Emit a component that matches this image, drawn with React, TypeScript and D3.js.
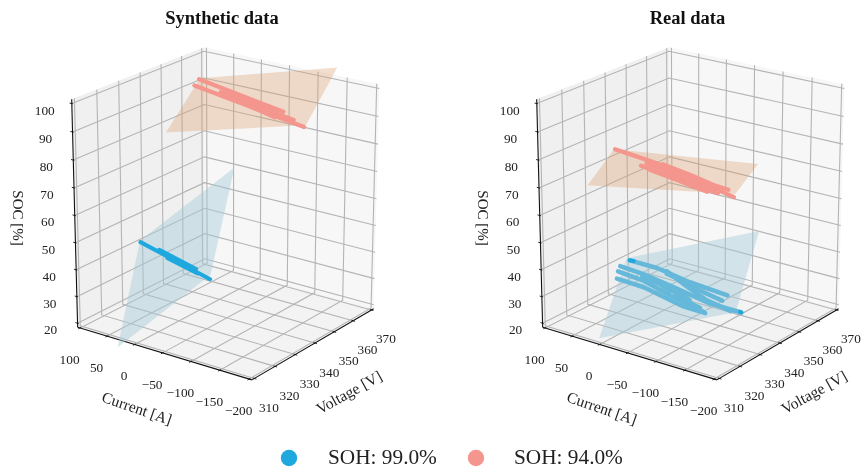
import { useEffect, useRef } from "react";
import * as d3 from "d3";

type P3 = [number, number, number]; // current, voltage, soc

const currentTicks = [100, 50, 0, -50, -100, -150, -200];
const voltageTicks = [310, 320, 330, 340, 350, 360, 370];
const socTicks = [20, 30, 40, 50, 60, 70, 80, 90, 100];
const currentLimits = [104.5, -204.5];
const voltageLimits = [308.8, 371.2];
const socLimits = [18.5, 101.5];

const synthRedPlane: P3[] = [[77, 361.7, 94], [-170, 359.7, 109.4], [-170, 344.3, 94], [77, 344.8, 79.3]];
const synthBluePlane: P3[] = [[60, 327.4, 46.3], [-108, 327.4, 81.7], [-108, 316, 47.5], [60, 316, 10.5]];
const realRedPlane: P3[] = [[78, 336.9, 75.7], [-174, 336.9, 83], [-177, 325, 76.7], [81, 325, 66.5]];
const realBluePlane: P3[] = [[78, 342.3, 32.9], [-159, 342.3, 56.3], [-159, 330.9, 31], [87.6, 330.9, 6]];

const synthRedTracks: P3[][] = [
  [[77.7, 361.4, 93.7], [-120.6, 347.5, 95.3]],
  [[79.2, 359.5, 91.9], [-174.5, 342, 94.3]],
  [[7.3, 355, 93], [-111.5, 346, 93.4]],
  [[-2.3, 355.5, 94], [-110, 348, 95.1]],
  [[-22.3, 353.2, 93.5], [-148.5, 344.5, 94.7]],
  [[19.4, 356.2, 93.2], [-71.7, 350.1, 94.2]],
];
const synthBlueTracks: P3[][] = [
  [[58.2, 327.1, 45.9], [-109.2, 315.5, 46.3]],
  [[12.8, 324.2, 46.7], [-75.4, 318.1, 47]],
  [[-8.2, 322.4, 45.5], [-79.3, 317.5, 45.9]],
];
const realRedTracks: P3[][] = [
  [[76.7, 337, 75.8], [44.9, 335.7, 76], [-11.3, 333.2, 76.4], [-70.4, 330, 76.3], [-137.2, 326.3, 76.2], [-178, 324.1, 76]],
  [[11.2, 332.1, 74.7], [-35.2, 329.9, 74.9], [-98.2, 327.2, 75.4], [-148.2, 324.9, 75.5]],
  [[-24.3, 332.9, 76.7], [-81.6, 330.2, 76.8], [-133.4, 327.3, 76.7], [-161.4, 326.2, 77]],
  [[-7.4, 331, 74.6], [-64.8, 328.3, 74.8], [-129.6, 325.1, 75]],
  [[5, 333, 75.6], [-50, 330.3, 75.8], [-105, 327.5, 75.9], [-150, 325.5, 76.2]],
];
const realBlueTracks: P3[][] = [
  [[71.1, 342, 32.6], [12.8, 339.9, 33.8], [-58, 336.7, 33.8], [-134.7, 333.7, 34.6]],
  [[86.8, 341.4, 29.7], [34.8, 339.4, 30.3], [-36.3, 336.2, 30.3], [-107.2, 333, 30.2], [-168.9, 330.8, 31.5]],
  [[88.3, 340.7, 27.9], [31.4, 338.4, 28.4], [-27.2, 335.4, 27.6], [-99, 332, 27.1]],
  [[86.3, 339.6, 25.6], [27.8, 337.4, 26.6], [-29.8, 334.7, 26.2], [-58.5, 333.3, 26.1], [-103.1, 331.7, 26.9]],
  [[-7.9, 339.1, 34.1], [-46.2, 336.7, 32.5], [-99.2, 333.6, 30.7], [-149.1, 331.3, 30.6]],
  [[-21.9, 336.9, 30.3], [-67.7, 334, 28.7]],
  [[-8, 339, 33.2], [-40, 337, 33.6], [-85, 334.5, 33], [-130, 332.6, 32.8]],
  [[-30, 336.6, 28.5], [-60, 334.6, 27.5], [-90, 332.8, 27.7]],
  [[40, 339.8, 29], [0, 337.8, 29.2], [-25, 336.3, 28.8]],
];
const realBlueDarkTracks: P3[][] = [
  [[71.1, 342, 32.6], [62, 341.6, 33]],
  [[-166, 331, 31.5], [-168.9, 330.8, 31.5]],
];

const panelTitles = ["Synthetic data", "Real data"];
const legendLabels = ["SOH: 99.0%", "SOH: 94.0%"];

const BLUE = "#1fa8de";
const RED = "#f4968e";
const FONT = "'Liberation Serif', 'Times New Roman', serif";

// camera, fitted by eye to the box corners
const azim = (36 * Math.PI) / 180;
const tiltDepth = 0.927;
const tiltHeight = 0.427;
const dist = 22;
const scaleH = 108;
const scaleZ = 113;
const scaleFloor = 38;

const aScale = d3.scaleLinear().domain(currentLimits).range([-1, 1]);
const bScale = d3.scaleLinear().domain(voltageLimits).range([-1, 1]);
const zScale = d3.scaleLinear().domain(socLimits).range([-1, 1]);

function projector(tx: number, ty: number) {
  return ([i, v, s]: P3): [number, number] => {
    const a = aScale(i);
    const b = bScale(v);
    const z = zScale(s);
    const side = a * Math.cos(azim) + b * Math.sin(azim);
    const near = a * Math.sin(azim) - b * Math.cos(azim);
    const p = dist / (dist - (near * tiltDepth + z * tiltHeight));
    return [tx + scaleH * side * p, ty - p * (scaleZ * z - scaleFloor * near)];
  };
}

export default function App() {
  const svgRef = useRef<SVGSVGElement>(null);

  useEffect(() => {
    const svg = d3.select(svgRef.current);
    svg.selectAll("*").remove();
    const [iMax, iMin] = currentLimits;
    const [vMin, vMax] = voltageLimits;
    const [sMin, sMax] = socLimits;

    function drawPanel(
      tx: number,
      title: string,
      titleX: number,
      planes: { pts: P3[]; fill: string; op: number }[],
      tracks: { lines: P3[][]; color: string; width: number }[],
    ) {
      const project = projector(tx, 207);
      const g = svg.append("g");
      const line = d3.line<P3>().x((d) => project(d)[0]).y((d) => project(d)[1]);
      const poly = (pts: P3[]) => line(pts) + "Z";

      // panes
      g.append("path").attr("d", poly([[iMax, vMin, sMin], [iMax, vMax, sMin], [iMax, vMax, sMax], [iMax, vMin, sMax]])).attr("fill", "#f0f0f0");
      g.append("path").attr("d", poly([[iMax, vMax, sMin], [iMin, vMax, sMin], [iMin, vMax, sMax], [iMax, vMax, sMax]])).attr("fill", "#f7f7f7");
      g.append("path").attr("d", poly([[iMax, vMin, sMin], [iMin, vMin, sMin], [iMin, vMax, sMin], [iMax, vMax, sMin]])).attr("fill", "#f3f3f3");

      // grid
      const gridLine = (pts: P3[]) =>
        g.append("path").attr("d", line(pts)).attr("fill", "none").attr("stroke", "#b4b4b4").attr("stroke-width", 1.1);
      currentTicks.forEach((c) => {
        gridLine([[c, vMin, sMin], [c, vMax, sMin], [c, vMax, sMax]]);
      });
      voltageTicks.forEach((v) => {
        gridLine([[iMin, v, sMin], [iMax, v, sMin], [iMax, v, sMax]]);
      });
      socTicks.forEach((s) => {
        gridLine([[iMax, vMin, s], [iMax, vMax, s], [iMin, vMax, s]]);
      });

      // axes and ticks
      const axisLine = (pts: P3[], w = 1.1) =>
        g.append("path").attr("d", line(pts)).attr("fill", "none").attr("stroke", "#111").attr("stroke-width", w);
      axisLine([[iMax, vMin, sMin], [iMin, vMin, sMin]]);
      axisLine([[iMin, vMin, sMin], [iMin, vMax, sMin]]);
      axisLine([[iMax, vMin, sMin], [iMax, vMin, sMax]]);

      const label = (p: [number, number], t: string | number, dx: number, dy: number) =>
        g.append("text")
          .attr("x", p[0] + dx)
          .attr("y", p[1] + dy)
          .attr("text-anchor", "middle")
          .attr("dominant-baseline", "central")
          .attr("font-family", FONT)
          .attr("font-size", 13.3)
          .attr("fill", "#222")
          .text(String(t).replace("-", "\u2212"));

      currentTicks.forEach((c) => {
        axisLine([[c, vMin - 0.8, sMin], [c, vMin + 0.5, sMin]], 0.9);
        label(project([c, vMin, sMin]), c, -10.5, 31.5);
      });
      voltageTicks.forEach((v) => {
        axisLine([[iMin - 3.5, v, sMin], [iMin + 2.5, v, sMin]], 0.9);
        label(project([iMin, v, sMin]), v, 14.5, 29);
      });
      socTicks.forEach((s) => {
        axisLine([[iMax + 4, vMin, s], [iMax - 2, vMin, s]], 0.9);
        label(project([iMax, vMin, s]), s, -27, 6.5);
      });

      // planes then points
      planes.forEach((pl) => {
        g.append("path").attr("d", poly(pl.pts)).attr("fill", pl.fill).attr("fill-opacity", pl.op);
      });
      tracks.forEach((t) => {
        t.lines.forEach((pts) => {
          g.append("path")
            .attr("d", line(pts))
            .attr("fill", "none")
            .attr("stroke", t.color)
            .attr("stroke-width", t.width)
            .attr("stroke-linecap", "round")
            .attr("stroke-linejoin", "round");
        });
      });

      // text
      const axisTitle = (x: number, y: number, rot: number, t: string, size: number) =>
        g.append("text")
          .attr("transform", `translate(${x},${y}) rotate(${rot})`)
          .attr("text-anchor", "middle")
          .attr("dominant-baseline", "central")
          .attr("font-family", FONT)
          .attr("font-size", size)
          .attr("fill", "#222")
          .text(t);
      axisTitle(tx - 90, 408, 19, "Current [A]", 15.5);
      axisTitle(tx + 122, 392, -29, "Voltage [V]", 15.5);
      axisTitle(tx - 209, 218, 90, "SOC [%]", 15);

      g.append("text")
        .attr("x", titleX)
        .attr("y", 24)
        .attr("text-anchor", "middle")
        .attr("font-family", FONT)
        .attr("font-weight", "bold")
        .attr("font-size", 18.5)
        .attr("fill", "#111")
        .text(title);
    }

    drawPanel(
      227,
      panelTitles[0],
      222,
      [
        { pts: synthRedPlane, fill: "#dc9f6c", op: 0.35 },
        { pts: synthBluePlane, fill: "#a4c9d8", op: 0.45 },
      ],
      [
        { lines: synthRedTracks, color: RED, width: 4.3 },
        { lines: synthBlueTracks, color: BLUE, width: 4 },
      ],
    );
    drawPanel(
      692,
      panelTitles[1],
      687.5,
      [
        { pts: realRedPlane, fill: "#dc9f6c", op: 0.35 },
        { pts: realBluePlane, fill: "#a4c9d8", op: 0.45 },
      ],
      [
        { lines: realRedTracks, color: RED, width: 4.3 },
        { lines: realBlueTracks, color: "#66b8da", width: 4.5 },
        { lines: realBlueDarkTracks, color: BLUE, width: 4 },
      ],
    );

    // legend
    const legend = svg.append("g");
    [
      { cx: 289, tx: 328, color: BLUE },
      { cx: 476, tx: 514, color: RED },
    ].forEach((d, i) => {
      legend.append("circle").attr("cx", d.cx).attr("cy", 458).attr("r", 8.2).attr("fill", d.color);
      legend.append("text")
        .attr("x", d.tx)
        .attr("y", 463.5)
        .attr("font-family", FONT)
        .attr("font-size", 21.3)
        .attr("fill", "#222")
        .text(legendLabels[i]);
    });
  }, []);

  return (
    <svg
      ref={svgRef}
      width={861}
      height={467}
      style={{ position: "absolute", left: 0, top: 0, background: "#fff", filter: "blur(0.35px)" }}
    />
  );
}
